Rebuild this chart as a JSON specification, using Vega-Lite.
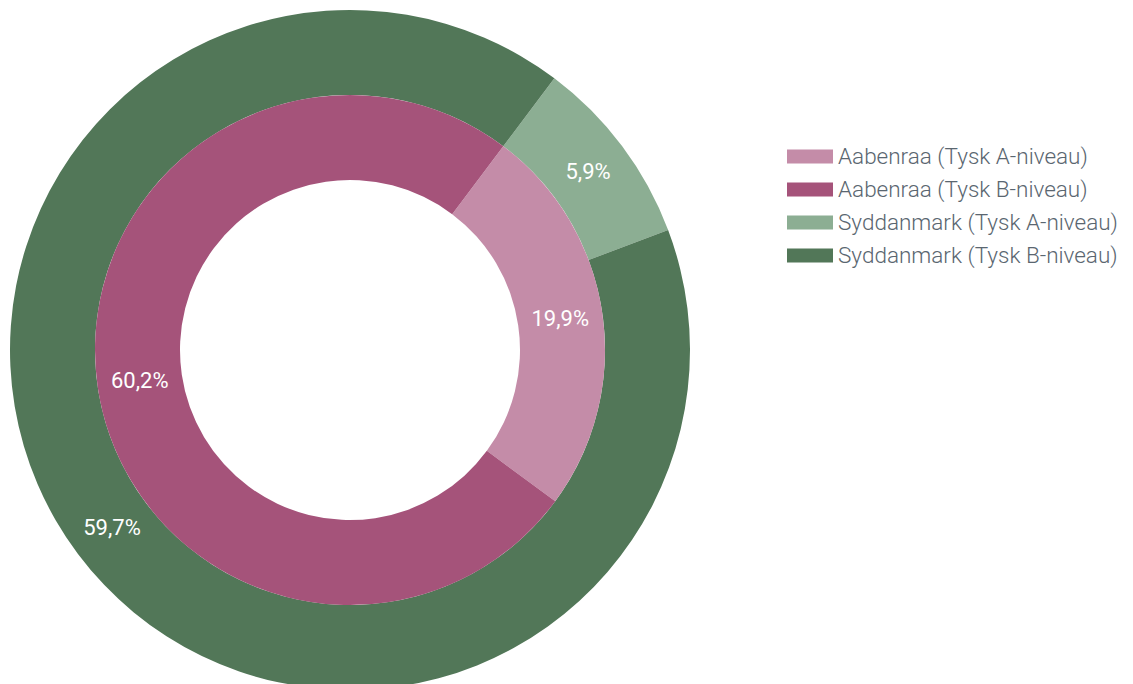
{
  "$schema": "https://vega.github.io/schema/vega-lite/v6.json",
  "width": 700,
  "height": 700,
  "padding": {"left": 0, "top": 0, "right": 433, "bottom": 0},
  "autosize": {"type": "none"},
  "background": "white",
  "config": {"view": {"stroke": null}, "font": "Roboto"},
  "data": {
    "values": [
      {"ring": "inner", "series": "Aabenraa (Tysk A-niveau)", "value": 19.9, "label": "19,9%", "order": 1},
      {"ring": "inner", "series": "Aabenraa (Tysk B-niveau)", "value": 60.2, "label": "60,2%", "order": 2},
      {"ring": "outer", "series": "Syddanmark (Tysk A-niveau)", "value": 5.9, "label": "5,9%", "order": 1},
      {"ring": "outer", "series": "Syddanmark (Tysk B-niveau)", "value": 59.7, "label": "59,7%", "order": 2}
    ]
  },
  "layer": [
    {
      "transform": [{"filter": "datum.ring === 'outer'"}],
      "encoding": {
        "theta": {"field": "value", "type": "quantitative", "stack": true, "scale": {"range": [0.645, 6.928]}},
        "order": {"field": "order"},
        "detail": {"field": "series", "type": "nominal"}
      },
      "layer": [
        {
          "mark": {"type": "arc", "radius": 340, "radius2": 255}
        },
        {
          "mark": {"type": "text", "fontSize": 22, "font": "Roboto", "radius": 297.5},
          "encoding": {
            "color": {"value": "white"},
            "text": {"field": "label", "type": "nominal"}
          }
        }
      ]
    },
    {
      "transform": [{"filter": "datum.ring === 'inner'"}],
      "encoding": {
        "theta": {"field": "value", "type": "quantitative", "stack": true, "scale": {"range": [0.645, 6.928]}},
        "order": {"field": "order"},
        "detail": {"field": "series", "type": "nominal"}
      },
      "layer": [
        {
          "mark": {"type": "arc", "radius": 255, "radius2": 170}
        },
        {
          "mark": {"type": "text", "fontSize": 22, "font": "Roboto", "radius": 212.5},
          "encoding": {
            "color": {"value": "white"},
            "text": {"field": "label", "type": "nominal"}
          }
        }
      ]
    }
  ],
  "resolve": {"scale": {"theta": "independent", "color": "shared"}},
  "encoding": {
    "color": {
      "field": "series",
      "type": "nominal",
      "scale": {
        "domain": ["Aabenraa (Tysk A-niveau)", "Aabenraa (Tysk B-niveau)", "Syddanmark (Tysk A-niveau)", "Syddanmark (Tysk B-niveau)"],
        "range": ["#c48ca8", "#a5537a", "#8cae93", "#527758"]
      },
      "legend": {
        "title": null,
        "orient": "none",
        "legendX": 787,
        "legendY": 145,
        "symbolType": "M-1,-0.6H3V0.6H-1Z",
        "symbolSize": 529,
        "symbolStrokeWidth": 0,
        "labelFont": "Roboto",
        "labelFontWeight": 300,
        "labelFontSize": 22.5,
        "labelColor": "#5a6670",
        "labelOffset": 28,
        "rowPadding": 10,
        "labelLimit": 400
      }
    }
  }
}
